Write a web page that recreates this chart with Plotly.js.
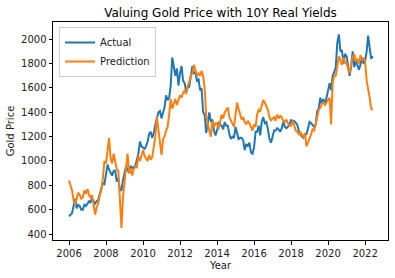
<!DOCTYPE html>
<html>
<head>
<meta charset="utf-8">
<script src="https://cdn.plot.ly/plotly-3.0.1.min.js"></script>
<style>html,body{margin:0;padding:0;background:#fff;}#chart{width:395px;height:278px;}</style>
</head>
<body>
<div id="chart"></div>
<script>
// Monthly readings, Jan 2006 .. Jun 2022
const startYear = 2006;
const months = 198;
const dates = [];
for (let i = 0; i < months; i++) {
  const y = startYear + Math.floor(i / 12);
  const m = (i % 12) + 1;
  dates.push(y + '-' + (m < 10 ? '0' + m : m) + '-01');
}

const actual = [
  545, 560, 570, 630, 690, 610, 640, 630, 600, 600, 640, 630,
  650, 670, 660, 690, 670, 650, 670, 680, 730, 780, 820, 810,
  900, 970, 930, 900, 880, 920, 920, 830, 860, 760, 760, 840,
  900, 960, 930, 900, 960, 940, 950, 960, 1010, 1060, 1160, 1120,
  1110, 1100, 1120, 1160, 1220, 1240, 1190, 1230, 1300, 1360, 1400, 1410,
  1350, 1400, 1440, 1540, 1500, 1520, 1620, 1850, 1780, 1700, 1760, 1620,
  1720, 1780, 1660, 1640, 1570, 1600, 1610, 1680, 1780, 1720, 1720, 1660,
  1670, 1580, 1600, 1400, 1380, 1230, 1320, 1400, 1320, 1340, 1250, 1210,
  1250, 1320, 1300, 1290, 1260, 1320, 1290, 1290, 1220, 1180, 1200, 1190,
  1280, 1210, 1180, 1190, 1190, 1170, 1090, 1140, 1120, 1150, 1070, 1060,
  1110, 1240, 1240, 1290, 1210, 1320, 1360, 1310, 1320, 1260, 1180, 1150,
  1210, 1250, 1250, 1270, 1260, 1240, 1270, 1320, 1280, 1270, 1280, 1300,
  1340, 1320, 1330, 1310, 1300, 1250, 1220, 1200, 1190, 1220, 1220, 1280,
  1320, 1310, 1290, 1280, 1300, 1410, 1430, 1520, 1470, 1510, 1460, 1520,
  1580, 1640, 1580, 1700, 1730, 1770, 1970, 2040, 1900, 1910, 1800, 1880,
  1860, 1760, 1700, 1780, 1900, 1770, 1820, 1790, 1750, 1790, 1850, 1800,
  1820, 1900, 2030, 1930, 1840, 1860
];

const prediction = [
  840, 800, 760, 680, 640, 690, 740, 720, 690, 700, 760, 730,
  770, 720, 700, 720, 640, 560, 620, 650, 720, 760, 860, 1000,
  980, 1120, 1190, 1020, 980, 1060, 1000, 930, 920, 720, 450, 700,
  850, 950, 1060, 900, 940, 880, 930, 960, 950, 1040, 1000, 1050,
  1090, 1040, 1020, 1000, 1050, 1010, 1030, 1120, 1200, 1360, 1250, 1130,
  1050, 1180, 1200, 1250, 1280, 1380, 1510, 1430, 1470, 1510, 1460, 1500,
  1540, 1520, 1560, 1580, 1550, 1620, 1650, 1700, 1720, 1790, 1740, 1700,
  1720, 1700, 1740, 1700, 1600, 1370, 1300, 1260, 1200, 1330, 1280, 1310,
  1310, 1260, 1320, 1380, 1350, 1400, 1420, 1440, 1360, 1330, 1300, 1280,
  1380, 1480, 1430, 1370, 1340, 1360, 1320, 1300, 1330, 1310, 1280, 1250,
  1300, 1280, 1380, 1420, 1410, 1470, 1500, 1480, 1450, 1420, 1360, 1330,
  1350, 1360, 1330, 1380, 1350, 1370, 1360, 1330, 1320, 1340, 1310, 1290,
  1290, 1330, 1300, 1250, 1240, 1220, 1240, 1210, 1190, 1230, 1120, 1150,
  1180, 1220, 1260, 1250, 1300, 1380, 1420, 1440, 1470, 1480, 1460, 1480,
  1500, 1520, 1300, 1640, 1700, 1700, 1780, 1860, 1830, 1790, 1850, 1810,
  1800, 1760, 1720, 1790, 1850, 1880, 1820, 1840, 1800, 1870, 1830, 1850,
  1820, 1660, 1600, 1520, 1430, 1420
];

const seriesNames = ['Actual', 'Prediction'];
const yTicks = [400, 600, 800, 1000, 1200, 1400, 1600, 1800, 2000];

const traces = [
  {x: dates, y: actual, name: seriesNames[0], type: 'scatter', mode: 'lines',
   line: {color: '#1f77b4', width: 2}},
  {x: dates, y: prediction, name: seriesNames[1], type: 'scatter', mode: 'lines',
   line: {color: '#ff7f0e', width: 2}}
];

const font = {family: 'DejaVu Sans, sans-serif', size: 10, color: '#222'};
const layout = {
  width: 395, height: 278,
  margin: {l: 53, r: 7, t: 22, b: 38},
  paper_bgcolor: '#fff', plot_bgcolor: '#fff',
  font: font,
  showlegend: true,
  title: {text: 'Valuing Gold Price with 10Y Real Yields', font: {family: 'DejaVu Sans, sans-serif', size: 12, color: '#000'},
          x: 0.5, xref: 'paper', y: 0.954, yref: 'container', yanchor: 'middle'},
  xaxis: {type: 'date', range: ['2005-02-19', '2023-03-29'], tick0: '2006-01-01', dtick: 'M24', tickformat: '%Y',
          showgrid: false, zeroline: false, showline: true, mirror: true, linecolor: '#000', linewidth: 1,
          ticks: 'outside', ticklen: 3.5, tickwidth: 1, tickcolor: '#000', tickfont: font,
          title: {text: 'Year', font: font, standoff: 4}},
  yaxis: {range: [350.7, 2142], tickvals: yTicks, ticktext: yTicks.map(String),
          showgrid: false, zeroline: false, showline: true, mirror: true, linecolor: '#000', linewidth: 1,
          ticks: 'outside', ticklen: 3.5, tickwidth: 1, tickcolor: '#000', tickfont: font,
          title: {text: 'Gold Price', font: font, standoff: 4}},
  legend: {x: 0.018, y: 0.977, xanchor: 'left', yanchor: 'top', bgcolor: 'rgba(255,255,255,0.8)',
           bordercolor: '#ccc', borderwidth: 1, font: font, itemwidth: 30, tracegroupgap: 0}
};

Plotly.newPlot('chart', traces, layout, {displayModeBar: false, staticPlot: true});
</script>
</body>
</html>
